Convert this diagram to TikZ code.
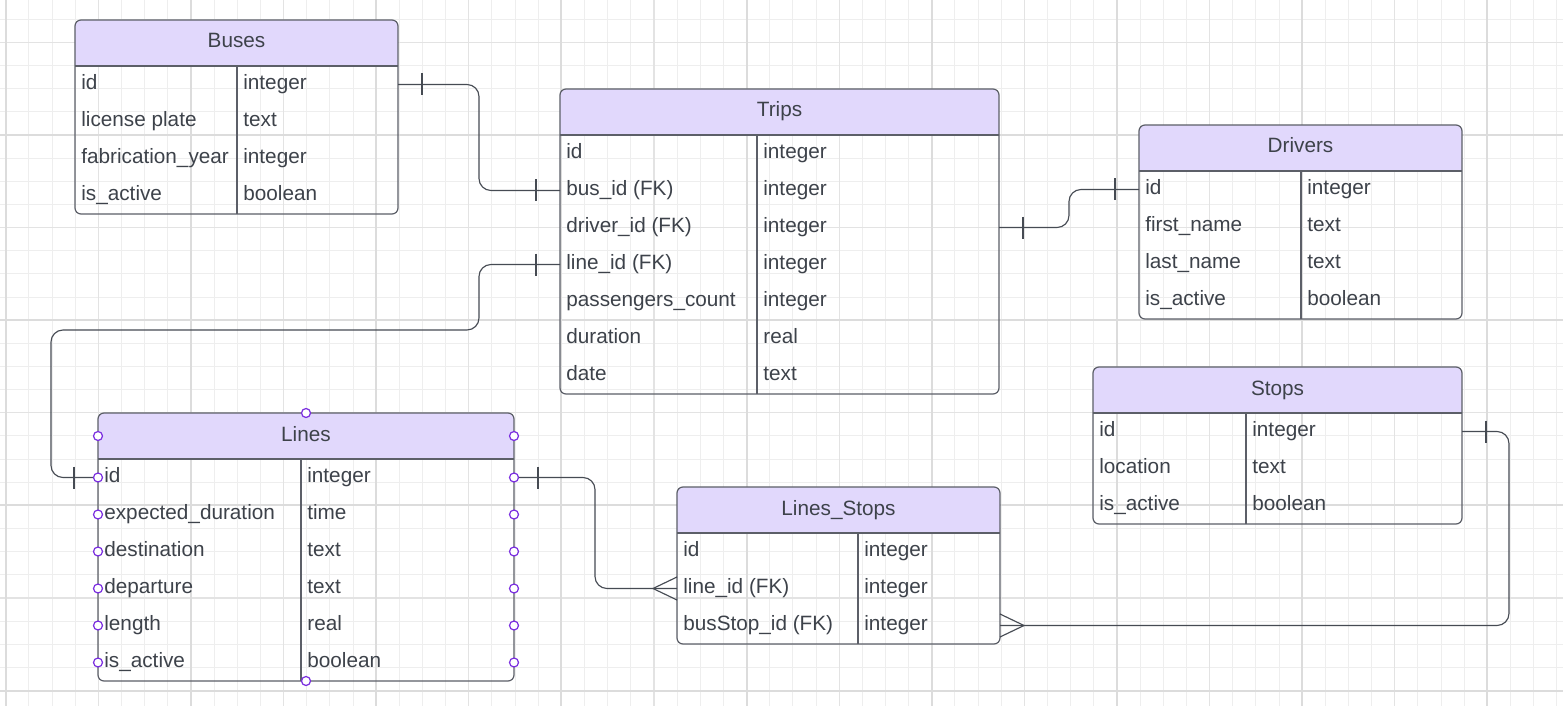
\documentclass[tikz,border=0pt]{standalone}
\usepackage{fontspec}
\setmainfont{Liberation Sans}
\usetikzlibrary{calc,positioning}
\definecolor{headfill}{HTML}{E1D8FC}
\definecolor{tableborder}{HTML}{5C5F68}
\definecolor{txt}{HTML}{3D424A}
\definecolor{linkcol}{HTML}{464B53}
\definecolor{gridminor}{HTML}{EEEEEE}
\definecolor{gridmid}{HTML}{E3E3E3}
\definecolor{gridmajor}{HTML}{DCDCDC}
\definecolor{handlecol}{HTML}{7B2FE0}
%% one pixel of the drawing
\newcommand{\pxu}{0.02cm}
%% a table: name, left, top, width, number of rows, divider, title, rows
\newcommand{\erTable}[8]{%
	\node[tablebox, minimum width=#4*\pxu, minimum height={(46+37*#5)*\pxu}] (#1) at (#2,#3) {};
	\begin{scope}
		\clip[rounded corners=6*\pxu] (#1.north west) rectangle (#1.south east);
		\fill[headfill] (#1.north west) rectangle ([yshift=-46*\pxu]#1.north east);
	\end{scope}
	\draw[tableline] ([yshift=-46*\pxu]#1.north west) -- ([yshift=-46*\pxu]#1.north east);
	\draw[tableline] ([xshift=#6*\pxu, yshift=-46*\pxu]#1.north west) -- ([xshift=#6*\pxu]#1.south west);
	\node[titletext] (#1-title) at ([yshift=-28*\pxu]#1.north) {#7};
	\foreach \fname/\ftype [count=\i] in {#8} {
		\coordinate (#1-\i) at ([yshift={-(27.5+37*\i)*\pxu}]#1.north west);
		\coordinate (#1-\i-e) at ([yshift={-(27.5+37*\i)*\pxu}]#1.north east);
		\node[fieldtext] (#1-\i-name) at ([xshift=6*\pxu, yshift=-5*\pxu]#1-\i) {\fname};
		\node[fieldtext] (#1-\i-type) at ([xshift=(#6+6)*\pxu, yshift=-5*\pxu]#1-\i) {\ftype};
	}
	\draw[tableline, rounded corners=6*\pxu] (#1.north west) rectangle (#1.south east);
}

\begin{document}
\begin{tikzpicture}[x=0.02cm, y=-0.02cm,
	tablebox/.style={rectangle, anchor=north west, inner sep=0pt, outer sep=0pt},
	tableline/.style={draw=tableborder, line width=0.7pt},
	titletext/.style={anchor=base, inner sep=0pt, text=txt, font=\fontsize{11.8}{14}\selectfont},
	fieldtext/.style={anchor=base west, inner sep=0pt, text=txt, font=\fontsize{11.8}{14}\selectfont},
	link/.style={draw=linkcol, line width=0.65pt, rounded corners=12*\pxu},
	crowfoot/.style={draw=linkcol, line width=0.65pt, sharp corners},
	handle/.style={draw=handlecol, fill=white, line width=0.7pt}]
	\useasboundingbox (0,0) rectangle (1563,706);
	\fill[white] (0,0) rectangle (1563,706);
	%% grid of the canvas
	\foreach \k in {0,...,67} \draw[gridminor, line width=0.55pt] (5.8+23.15*\k,0) -- (5.8+23.15*\k,706);
	\foreach \k in {0,...,29} \draw[gridminor, line width=0.55pt] (0,19.25+23.15*\k) -- (1563,19.25+23.15*\k);
	\foreach \k in {0,...,7} \draw[gridmid, line width=0.6pt] (98.4+185.2*\k,0) -- (98.4+185.2*\k,706);
	\foreach \k in {0,...,3} \draw[gridmid, line width=0.6pt] (0,42.4+185.2*\k) -- (1563,42.4+185.2*\k);
	\foreach \k in {0,...,8} \draw[gridmajor, line width=1.1pt] (5.8+185.2*\k,0) -- (5.8+185.2*\k,706);
	\foreach \k in {0,...,3} \draw[gridmajor, line width=1.1pt] (0,135+185.2*\k) -- (1563,135+185.2*\k);

	%% the tables
	\erTable{buses}{75}{20}{323}{4}{162}{Buses}{id/integer, license plate/text, fabrication\_year/integer, is\_active/boolean}
	\erTable{trips}{560}{89}{439}{7}{197}{Trips}{id/integer, bus\_id (FK)/integer, driver\_id (FK)/integer, line\_id (FK)/integer, passengers\_count/integer, duration/real, date/text}
	\erTable{drivers}{1139}{125}{323}{4}{162}{Drivers}{id/integer, first\_name/text, last\_name/text, is\_active/boolean}
	\erTable{stops}{1093}{367}{369}{3}{153}{Stops}{id/integer, location/text, is\_active/boolean}
	\erTable{lines}{98}{413}{416}{6}{203}{Lines}{id/integer, expected\_duration/time, destination/text, departure/text, length/real, is\_active/boolean}
	\erTable{lstops}{677}{487}{323}{3}{181}{Lines\_Stops}{id/integer, line\_id (FK)/integer, busStop\_id (FK)/integer}

	%% Buses -- Trips
	\draw[link] (buses-1-e) -| ($(trips-2)+(-81,0)$) -- (trips-2);
	\draw[link] ([xshift=24*\pxu]buses-1-e) ++(0,-11) -- ++(0,22);
	\draw[link] ([xshift=-24*\pxu]trips-2) ++(0,-11) -- ++(0,22);
	%% Trips -- Drivers
	\draw[link] (trips-3-e) -| ($(drivers-1)+(-70,0)$) -- (drivers-1);
	\draw[link] ([xshift=24*\pxu]trips-3-e) ++(0,-11) -- ++(0,22);
	\draw[link] ([xshift=-24*\pxu]drivers-1) ++(0,-11) -- ++(0,22);
	%% Trips -- Lines
	\draw[link] (trips-4) -| ++(-81,65.5) -| ($(lines-1)+(-47,0)$) -- (lines-1);
	\draw[link] ([xshift=-24*\pxu]trips-4) ++(0,-11) -- ++(0,22);
	\draw[link] ([xshift=-24*\pxu]lines-1) ++(0,-11) -- ++(0,22);
	%% Lines -- Lines_Stops
	\draw[link] (lines-1-e) -| ($(lstops-2)+(-82,0)$) -- (lstops-2);
	\draw[link] ([xshift=24*\pxu]lines-1-e) ++(0,-11) -- ++(0,22);
	\draw[crowfoot] ([yshift=-11.5*\pxu]lstops-2) -- ([xshift=-24*\pxu]lstops-2) -- ([yshift=11.5*\pxu]lstops-2);
	%% Stops -- Lines_Stops
	\draw[link] (stops-1-e) -| ($(stops-1-e |- lstops-3-e)+(47,0)$) -- (lstops-3-e);
	\draw[link] ([xshift=24*\pxu]stops-1-e) ++(0,-11) -- ++(0,22);
	\draw[crowfoot] ([yshift=-11.5*\pxu]lstops-3-e) -- ([xshift=24*\pxu]lstops-3-e) -- ([yshift=11.5*\pxu]lstops-3-e);

	%% selection handles round Lines
	\foreach \yy in {23,64.5,101.5,138.5,175.5,212.5,249.5} {
		\draw[handle] ([yshift=-\yy*\pxu]lines.north west) circle[radius=4.5*\pxu];
		\draw[handle] ([yshift=-\yy*\pxu]lines.north east) circle[radius=4.5*\pxu];
	}
	\draw[handle] (lines.north) circle[radius=4.5*\pxu];
	\draw[handle] (lines.south) circle[radius=4.5*\pxu];
\end{tikzpicture}
\end{document}
